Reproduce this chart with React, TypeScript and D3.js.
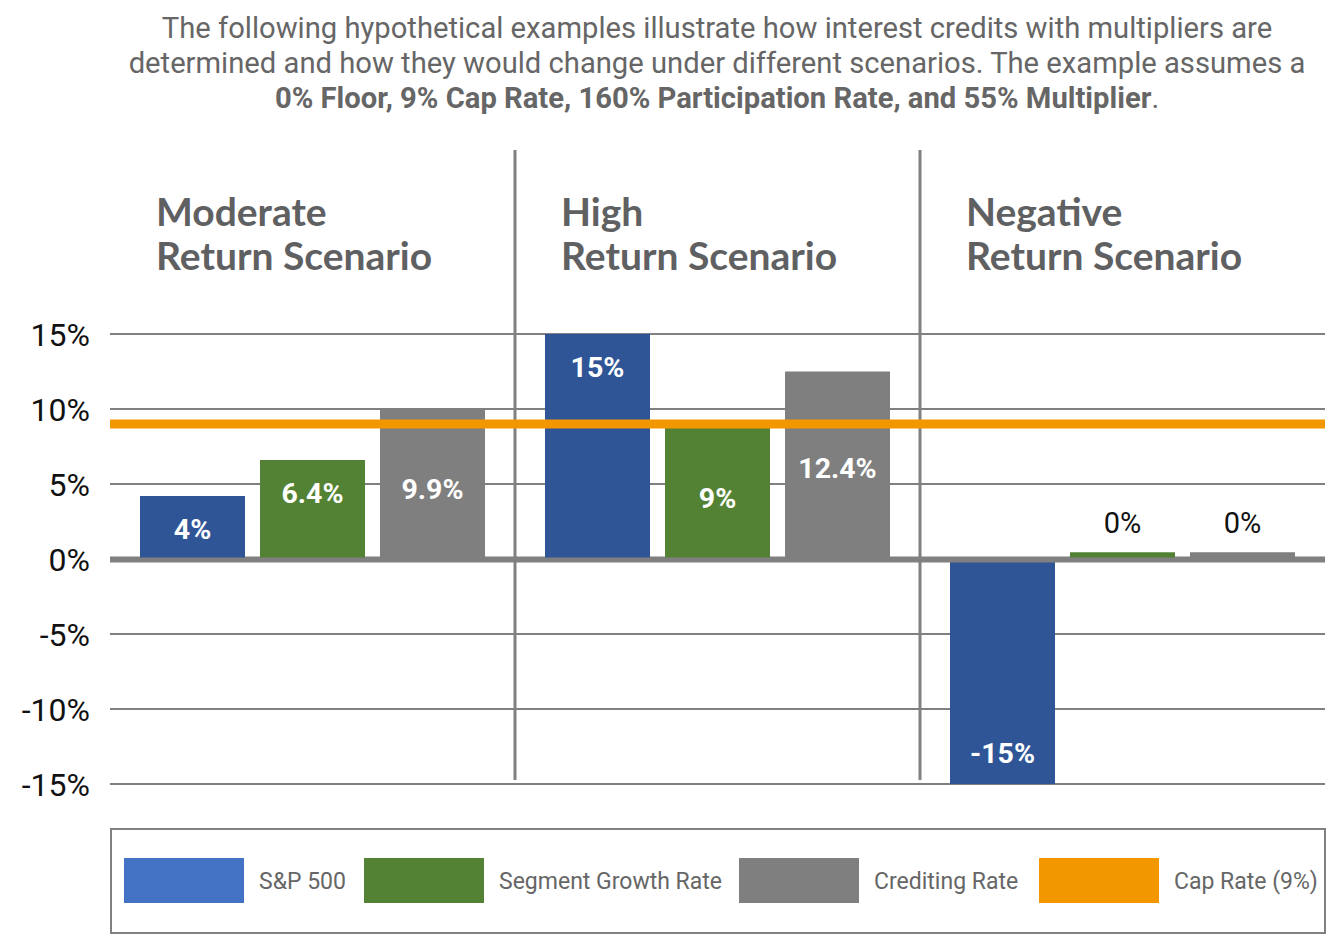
import React, { useRef, useEffect } from "react";
import { select, scaleBand, scaleLinear } from "d3";

const scenarios = ["Moderate", "High", "Negative"];
const series = ["S&P 500", "Segment Growth Rate", "Crediting Rate"];
const legendNames = ["S&P 500", "Segment Growth Rate", "Crediting Rate", "Cap Rate (9%)"];

// bar heights as drawn, per scenario, in series order
const sp500 = [4.2, 15, -15];
const segmentGrowth = [6.6, 9, 0.45];
const crediting = [10, 12.5, 0.45];
const barLabels = [
  ["4%", "6.4%", "9.9%"],
  ["15%", "9%", "12.4%"],
  ["-15%", "0%", "0%"],
];
// where each label sits, in % units on the value axis
const labelAt = [
  [2.0, 4.4, 4.7],
  [12.8, 4.1, 6.1],
  [-12.9, 2.4, 2.4],
];
const capRate = 9;
const yTicks = [15, 10, 5, 0, -5, -10, -15];

const barColors = ["#2F5597", "#548235", "#7F7F7F"];
const legendColors = ["#4472C4", "#548235", "#7F7F7F", "#F39700"];
const capColor = "#F39700";
const gridColor = "#808080";
const textGray = "#666666";

const W = 1339;
const H = 935;

const App: React.FC = () => {
  const svgRef = useRef<SVGSVGElement>(null);

  useEffect(() => {
    const svg = select(svgRef.current);
    svg.selectAll("*").remove();

    const values = [sp500, segmentGrowth, crediting];

    //scales
    const x0 = scaleBand<string>().domain(scenarios).range([110, 1325]);
    const x1 = scaleBand<string>()
      .domain(series)
      .range([0, x0.bandwidth()])
      .paddingInner(0.125)
      .paddingOuter(0.25);
    const y = scaleLinear().domain([-15, 15]).range([784, 334]);

    //title
    const title = svg
      .append("text")
      .attr("text-anchor", "middle")
      .attr("font-family", "Roboto")
      .attr("font-size", 29.2)
      .attr("fill", textGray);
    title.append("tspan").attr("x", 717).attr("y", 38)
      .text("The following hypothetical examples illustrate how interest credits with multipliers are");
    title.append("tspan").attr("x", 717).attr("y", 73)
      .text("determined and how they would change under different scenarios. The example assumes a");
    const l3 = title.append("tspan").attr("x", 717).attr("y", 108);
    l3.append("tspan").attr("font-weight", "bold")
      .text("0% Floor, 9% Cap Rate, 160% Participation Rate, and 55% Multiplier");
    l3.append("tspan").text(".");

    //headings
    scenarios.forEach((s) => {
      const t = svg
        .append("text")
        .attr("font-family", "Lato")
        .attr("font-weight", "bold")
        .attr("font-size", 39)
        .attr("fill", "#5F6062");
      const gx = (x0(s) as number) + 46;
      t.append("tspan").attr("x", gx).attr("y", 226).text(s);
      t.append("tspan").attr("x", gx).attr("y", 270).text("Return Scenario");
    });

    //grid
    yTicks.forEach((v) => {
      svg
        .append("line")
        .attr("x1", 110)
        .attr("x2", 1325)
        .attr("y1", y(v))
        .attr("y2", y(v))
        .attr("stroke", gridColor)
        .attr("stroke-width", v === 0 ? 5 : 2);
      svg
        .append("text")
        .attr("x", 90)
        .attr("y", y(v))
        .attr("dy", "0.36em")
        .attr("text-anchor", "end")
        .attr("font-family", "Roboto")
        .attr("font-size", 32)
        .attr("fill", "#111")
        .text(`${v}%`);
    });

    //separators
    scenarios.slice(1).forEach((s) => {
      svg
        .append("line")
        .attr("x1", x0(s) as number)
        .attr("x2", x0(s) as number)
        .attr("y1", 150)
        .attr("y2", 780)
        .attr("stroke", gridColor)
        .attr("stroke-width", 3);
    });

    //bars
    scenarios.forEach((s, gi) => {
      series.forEach((ser, si) => {
        const v = values[si][gi];
        const bx = (x0(s) as number) + (x1(ser) as number);
        svg
          .append("rect")
          .attr("x", bx)
          .attr("y", y(Math.max(0, v)))
          .attr("width", x1.bandwidth())
          .attr("height", Math.abs(y(v) - y(0)))
          .attr("fill", barColors[si]);
      });
    });

    //zero line on top
    svg
      .append("line")
      .attr("x1", 110)
      .attr("x2", 1325)
      .attr("y1", y(0) + 1)
      .attr("y2", y(0) + 1)
      .attr("stroke", gridColor)
      .attr("stroke-width", 5);

    //cap line
    svg
      .append("line")
      .attr("x1", 110)
      .attr("x2", 1325)
      .attr("y1", y(capRate))
      .attr("y2", y(capRate))
      .attr("stroke", capColor)
      .attr("stroke-width", 9);

    //labels
    scenarios.forEach((s, gi) => {
      series.forEach((ser, si) => {
        const inside = Math.abs(values[si][gi]) >= 1;
        const bx = (x0(s) as number) + (x1(ser) as number) + x1.bandwidth() / 2;
        svg
          .append("text")
          .attr("x", bx)
          .attr("y", y(labelAt[gi][si]))
          .attr("dy", "0.36em")
          .attr("text-anchor", "middle")
          .attr("font-family", "Roboto")
          .attr("font-weight", inside ? "bold" : "normal")
          .attr("font-size", inside ? 28.5 : 29)
          .attr("fill", inside ? "#fff" : "#111")
          .text(barLabels[gi][si]);
      });
    });

    //legend
    svg
      .append("rect")
      .attr("x", 111)
      .attr("y", 829)
      .attr("width", 1214)
      .attr("height", 104)
      .attr("fill", "none")
      .attr("stroke", gridColor)
      .attr("stroke-width", 2);
    const legendX = [124, 364, 739, 1039];
    legendNames.forEach((n, i) => {
      svg
        .append("rect")
        .attr("x", legendX[i])
        .attr("y", 858)
        .attr("width", 120)
        .attr("height", 45)
        .attr("fill", legendColors[i]);
      svg
        .append("text")
        .attr("x", legendX[i] + 135)
        .attr("y", 881)
        .attr("dy", "0.36em")
        .attr("font-family", "Roboto")
        .attr("font-size", 23)
        .attr("fill", textGray)
        .text(n);
    });
  }, []);

  return (
    <svg
      ref={svgRef}
      width={W}
      height={H}
      style={{ position: "absolute", left: 0, top: 0, background: "#fff" }}
    ></svg>
  );
};

export default App;
